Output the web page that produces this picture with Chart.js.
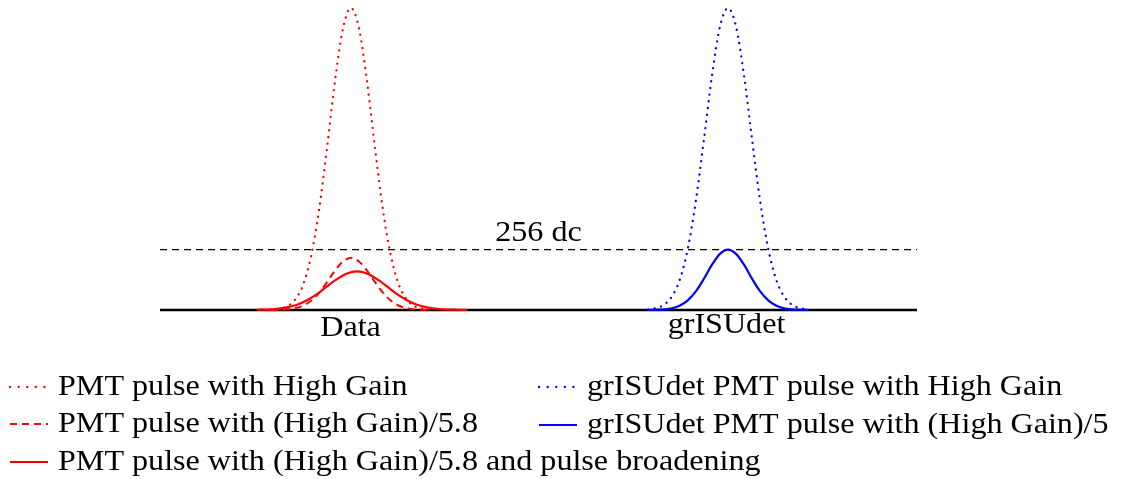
<!DOCTYPE html>
<html>
<head>
<meta charset="utf-8">
<script src="https://cdn.jsdelivr.net/npm/chart.js@4.4.1/dist/chart.umd.min.js"></script>
<style>
  html, body { margin: 0; padding: 0; background: #fff; }
</style>
</head>
<body>
<canvas id="pulseChart" width="1122" height="479"></canvas>
<script>
// time samples (arbitrary units) for the two pulse groups
const dataTime = [111, 119, 127, 135, 143, 151, 159, 167, 175, 183, 191, 199, 207, 215, 223, 231, 239, 247, 255, 263, 271];
const broadTime = [97, 107, 117, 127, 137, 147, 157, 167, 177, 187, 197, 207, 217, 227, 237, 247, 257, 267, 277, 287, 297, 307];
const simTime = [488, 496, 504, 512, 520, 528, 536, 544, 552, 560, 568, 576, 584, 592, 600, 608, 616, 624, 632, 640, 648];

// pulse heights in dc
const dataHighGain = [1, 5, 15, 43, 106, 227, 422, 686, 970, 1194, 1280, 1194, 970, 686, 422, 227, 106, 43, 15, 5, 1];
const dataScaled = [0, 1, 3, 7, 18, 39, 73, 118, 167, 206, 221, 206, 167, 118, 73, 39, 18, 7, 3, 1, 0];
const dataBroadened = [1, 2, 5, 11, 22, 41, 67, 100, 131, 155, 164, 155, 131, 100, 67, 41, 22, 11, 5, 2, 1, 0];
const simHighGain = [2, 8, 22, 58, 131, 264, 466, 725, 994, 1202, 1280, 1202, 994, 725, 466, 264, 131, 58, 22, 8, 2];
const simScaled = [0, 1, 2.5, 7, 19, 42, 80, 133, 192, 238, 256, 238, 192, 133, 80, 42, 19, 7, 2.5, 1, 0];

const threshold = 256;
const timeRange = [0, 757];

const groupLabels = ['Data', 'grISUdet'];
const thresholdLabel = '256 dc';
const seriesLabels = [
  'PMT pulse with High Gain',
  'PMT pulse with (High Gain)/5.8',
  'PMT pulse with (High Gain)/5.8 and pulse broadening',
  'grISUdet PMT pulse with High Gain',
  'grISUdet PMT pulse with (High Gain)/5'
];

const RED = '#ff0000';
const BLUE = '#0000ff';
const SERIF = '"Liberation Serif", "DejaVu Serif", serif';
const TEXT_STRETCH = 1.07;

const pts = (xs, ys) => xs.map((x, i) => ({ x: x, y: ys[i] }));

const DOTS = { borderDash: [0.1, 6.6], borderCapStyle: 'round', borderWidth: 2.3 };
const DASHES = { borderDash: [7, 5], borderWidth: 2 };
const SOLID = { borderDash: [], borderWidth: 2.2 };

function curve(label, xs, ys, color, style, order) {
  return Object.assign({
    label: label,
    data: pts(xs, ys),
    borderColor: color,
    backgroundColor: color,
    pointRadius: 0,
    fill: false,
    clip: false,
    cubicInterpolationMode: 'monotone',
    order: order
  }, style);
}

// serif text, widened a little to get the wide roman look
function drawText(ctx, text, x, y, align) {
  ctx.save();
  ctx.translate(x, y);
  ctx.scale(TEXT_STRETCH, 1);
  ctx.textAlign = align;
  ctx.fillText(text, 0, 0);
  ctx.restore();
}

// text labels and the two-column legend under the plot
const annotations = {
  id: 'annotations',
  afterDraw(chart) {
    const ctx = chart.ctx;
    const xs = chart.scales.x, ys = chart.scales.y;
    ctx.save();
    ctx.fillStyle = '#000';
    ctx.font = '30px ' + SERIF;
    ctx.textBaseline = 'alphabetic';
    drawText(ctx, groupLabels[0], xs.getPixelForValue(190.5), 336, 'center');
    drawText(ctx, groupLabels[1], xs.getPixelForValue(566.5), 333, 'center');
    drawText(ctx, thresholdLabel, xs.getPixelForValue(378.5), ys.getPixelForValue(threshold) - 9, 'center');

    const rows = [
      { x: 10, y: 387, color: RED, style: DOTS, text: seriesLabels[0] },
      { x: 10, y: 424, color: RED, style: DASHES, text: seriesLabels[1] },
      { x: 10, y: 462, color: RED, style: SOLID, text: seriesLabels[2] },
      { x: 539, y: 387, color: BLUE, style: DOTS, text: seriesLabels[3] },
      { x: 539, y: 425, color: BLUE, style: SOLID, text: seriesLabels[4] }
    ];
    rows.forEach(r => {
      ctx.beginPath();
      ctx.strokeStyle = r.color;
      ctx.lineWidth = r.style.borderWidth;
      ctx.setLineDash(r.style === DOTS ? [0.1, 8.5] : r.style.borderDash);
      ctx.lineCap = r.style.borderCapStyle || 'butt';
      ctx.moveTo(r.x, r.y);
      ctx.lineTo(r.x + 38, r.y);
      ctx.stroke();
      drawText(ctx, r.text, r.x + 48, r.y + 8, 'left');
    });
    ctx.restore();
  }
};

new Chart(document.getElementById('pulseChart'), {
  type: 'line',
  data: {
    datasets: [
      {
        label: 'baseline',
        data: pts(timeRange, [0, 0]),
        borderColor: '#000',
        borderWidth: 2.4,
        pointRadius: 0,
        clip: false,
        order: 10
      },
      {
        label: 'threshold',
        data: pts(timeRange, [threshold, threshold]),
        borderColor: '#000',
        borderWidth: 1.2,
        borderDash: [7, 5],
        pointRadius: 0,
        clip: false,
        order: 9
      },
      curve(seriesLabels[0], dataTime, dataHighGain, RED, DOTS, 3),
      curve(seriesLabels[1], dataTime, dataScaled, RED, DASHES, 2),
      curve(seriesLabels[2], broadTime, dataBroadened, RED, SOLID, 1),
      curve(seriesLabels[3], simTime, simHighGain, BLUE, DOTS, 2),
      curve(seriesLabels[4], simTime, simScaled, BLUE, SOLID, 1)
    ]
  },
  options: {
    responsive: false,
    animation: false,
    layout: { padding: { left: 160, right: 205, top: 1, bottom: 169 } },
    plugins: {
      legend: { display: false },
      tooltip: { enabled: false }
    },
    scales: {
      x: { type: 'linear', min: timeRange[0], max: timeRange[1], display: false },
      y: { type: 'linear', min: 0, max: 1310, display: false }
    }
  },
  plugins: [annotations]
});
</script>
</body>
</html>
